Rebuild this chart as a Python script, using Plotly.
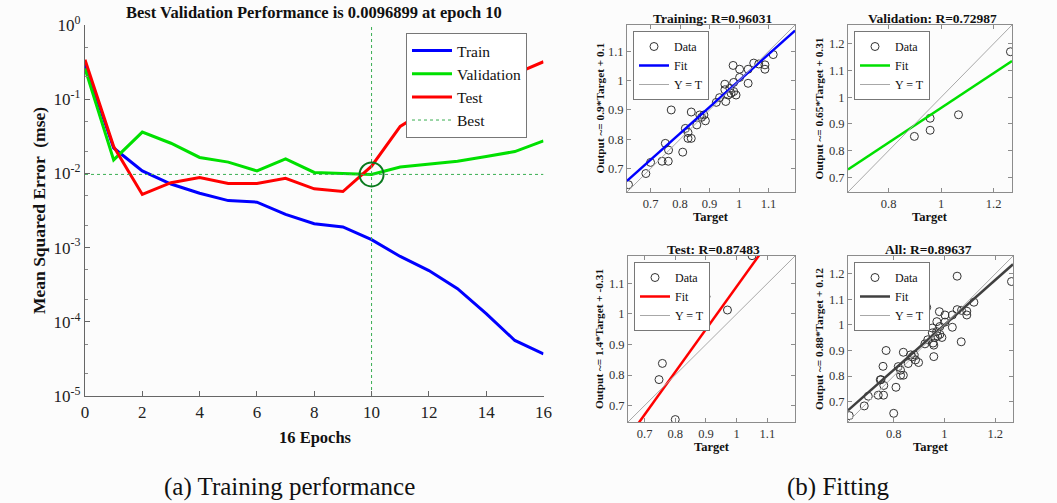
import plotly.graph_objects as go

W, H = 1057, 503
SERIF = "Liberation Serif"


def px(x):
    return x / W


def py(y):
    return 1 - y / H


# ---------------- data: training performance ----------------
epochs = list(range(17))
train_mse = [0.30, 0.022, 0.0108, 0.0072, 0.0054, 0.0043, 0.0041, 0.0028, 0.0021,
             0.0019, 0.00128, 0.00076, 0.00049, 0.00028, 0.000129, 5.6e-5, 3.7e-5]
val_mse = [0.26, 0.0152, 0.036, 0.0255, 0.0164, 0.0142, 0.0108, 0.0157, 0.0103,
           0.0101, 0.0096899, 0.0122, 0.0133, 0.0146, 0.0169, 0.0197, 0.0275]
test_mse = [0.34, 0.023, 0.0052, 0.0075, 0.0088, 0.0073, 0.0073, 0.0086, 0.0062,
            0.0057, 0.0125, 0.043, 0.075, 0.11, 0.15, 0.22, 0.32]
best_epoch = 10
best_perf = 0.0096899
y_tick_vals = [1e-5, 1e-4, 1e-3, 1e-2, 1e-1, 1]
y_tick_text = ["10<sup>-5</sup>", "10<sup>-4</sup>", "10<sup>-3</sup>",
               "10<sup>-2</sup>", "10<sup>-1</sup>", "10<sup>0</sup>"]

# ---------------- data: regression fits ----------------
train_target = [0.625, 0.684, 0.700, 0.739, 0.760, 0.750, 0.761, 0.770, 0.809, 0.818,
                0.827, 0.827, 0.838, 0.838, 0.857, 0.867, 0.873, 0.881, 0.886, 0.923,
                0.934, 0.952, 0.952, 0.955, 0.963, 0.969, 0.980, 0.982, 0.982, 0.990,
                0.973, 1.002, 1.002, 1.031, 1.031, 1.050, 1.067, 1.088, 1.088, 1.116]
train_output = [0.645, 0.683, 0.721, 0.725, 0.725, 0.786, 0.763, 0.900, 0.756, 0.837,
                0.823, 0.803, 0.803, 0.893, 0.849, 0.883, 0.875, 0.883, 0.863, 0.926,
                0.942, 0.988, 0.969, 0.929, 0.951, 0.974, 1.052, 0.994, 0.963, 0.951,
                0.957, 1.039, 1.011, 0.991, 1.039, 1.060, 1.057, 1.054, 1.039, 1.089]
val_target = [0.898, 0.930, 0.958, 0.958, 1.066, 1.264]
val_output = [0.853, 1.069, 0.921, 0.876, 0.934, 1.170]
test_target = [0.747, 0.758, 0.800, 0.900, 0.970, 1.050]
test_output = [0.785, 0.838, 0.654, 1.057, 1.013, 1.191]
all_target = train_target + val_target + test_target
all_output = train_output + val_output + test_output

panel_titles = ["Training: R=0.96031", "Validation: R=0.72987",
                "Test: R=0.87483", "All: R=0.89637"]
panel_ylabels = ["Output ~= 0.9*Target + 0.1", "Output ~= 0.65*Target + 0.31",
                 "Output ~= 1.4*Target + -0.31", "Output ~= 0.88*Target + 0.12"]
fit_slope = [0.9, 0.65, 1.4, 0.88]
fit_icpt = [0.1, 0.31, -0.31, 0.12]
fit_colors = ["#0000ff", "#00e000", "#ff0000", "#404040"]
panel_limits = [[0.62, 1.19], [0.645, 1.27], [0.646, 1.19], [0.62, 1.27]]
panel_ticks = [[0.7, 0.8, 0.9, 1.0, 1.1], [0.8, 1.0, 1.2],
               [0.7, 0.8, 0.9, 1.0, 1.1], [0.8, 1.0, 1.2]]
panel_yticks = [[0.7, 0.8, 0.9, 1.0, 1.1], [0.7, 0.8, 0.9, 1.0, 1.1, 1.2],
                [0.7, 0.8, 0.9, 1.0, 1.1], [0.7, 0.8, 0.9, 1.0, 1.1, 1.2]]
panel_targets = [train_target, val_target, test_target, all_target]
panel_outputs = [train_output, val_output, test_output, all_output]

# pixel boxes of the panels (left, right, top, bottom)
boxes = [(627, 795, 25, 192), (848, 1012, 25, 192),
         (628, 795, 256, 422), (848, 1013, 256, 422)]


def fmt(v):
    s = ("%.1f" % v)
    return "1" if s == "1.0" else s


fig = go.Figure()

# ---------------- left plot ----------------
fig.add_trace(go.Scatter(x=epochs, y=train_mse, mode="lines", name="Train",
                         line=dict(color="#0000ff", width=3), legend="legend"))
fig.add_trace(go.Scatter(x=epochs, y=val_mse, mode="lines", name="Validation",
                         line=dict(color="#00e000", width=3), legend="legend"))
fig.add_trace(go.Scatter(x=epochs, y=test_mse, mode="lines", name="Test",
                         line=dict(color="#ff0000", width=3), legend="legend"))
fig.add_trace(go.Scatter(x=[epochs[0], epochs[-1], None, best_epoch, best_epoch],
                         y=[best_perf, best_perf, None, 1e-5, 1],
                         mode="lines", name="Best",
                         line=dict(color="#3aae52", width=1, dash="dot"),
                         legend="legend"))
fig.add_trace(go.Scatter(x=[best_epoch], y=[best_perf], mode="markers",
                         marker=dict(symbol="circle-open", size=24,
                                     line=dict(color="#0a7a1e", width=2),
                                     color="#0a7a1e"),
                         showlegend=False))

# ---------------- right panels ----------------
for i in range(4):
    xa = "x%d" % (i + 2)
    ya = "y%d" % (i + 2)
    lg = "legend%d" % (i + 2)
    lo, hi = panel_limits[i]
    fig.add_trace(go.Scatter(x=panel_targets[i], y=panel_outputs[i], mode="markers",
                             name="Data", xaxis=xa, yaxis=ya, legend=lg,
                             marker=dict(symbol="circle-open", size=8, color="#333333",
                                         line=dict(width=1, color="#333333"))))
    fig.add_trace(go.Scatter(x=[lo, hi],
                             y=[fit_slope[i] * lo + fit_icpt[i], fit_slope[i] * hi + fit_icpt[i]],
                             mode="lines", name="Fit", xaxis=xa, yaxis=ya, legend=lg,
                             line=dict(color=fit_colors[i], width=2.5)))
    fig.add_trace(go.Scatter(x=[lo, hi], y=[lo, hi], mode="lines", name="Y = T",
                             xaxis=xa, yaxis=ya, legend=lg,
                             line=dict(color="#a8a8a8", width=1)))

layout = dict(
    width=W, height=H, autosize=False,
    margin=dict(l=0, r=0, t=0, b=0, pad=0, autoexpand=False),
    paper_bgcolor="#fcfcfc", plot_bgcolor="#fcfcfc",
    font=dict(family=SERIF, color="#222222", size=12),
    showlegend=True,
)

layout["xaxis"] = dict(domain=[px(85), px(543.5)], range=[0, 16], anchor="y",
                       automargin=False,
                       tickvals=list(range(0, 17, 2)), ticks="inside", ticklen=5,
                       tickcolor="#666666", showline=True, linecolor="#666666",
                       linewidth=1.3, showgrid=False, zeroline=False,
                       tickfont=dict(size=17, family=SERIF, color="#222222"))
layout["yaxis"] = dict(domain=[py(396), py(25)], type="log", range=[-5, 0], anchor="x",
                       automargin=False,
                       tickvals=y_tick_vals, ticktext=y_tick_text, ticks="inside",
                       ticklen=5, tickcolor="#666666", showline=True,
                       linecolor="#666666", linewidth=1.3, showgrid=False,
                       zeroline=False,
                       minor=dict(ticks="inside", ticklen=3, tickcolor="#888888",
                                  showgrid=False),
                       tickfont=dict(size=17, family=SERIF, color="#222222"))

for i in range(4):
    l, r, t, b = boxes[i]
    lo, hi = panel_limits[i]
    n = i + 2
    axcommon = dict(showline=True, linecolor="#8c8c8c", linewidth=1, mirror="ticks",
                    ticks="inside", ticklen=4, tickcolor="#8c8c8c", showgrid=False,
                    zeroline=False, range=[lo, hi], automargin=False,
                    tickfont=dict(size=12.5, family=SERIF, color="#333333"))
    layout["xaxis%d" % n] = dict(axcommon, domain=[px(l), px(r)], anchor="y%d" % n,
                                 tickvals=panel_ticks[i],
                                 ticktext=[fmt(v) for v in panel_ticks[i]])
    layout["yaxis%d" % n] = dict(axcommon, domain=[py(b), py(t)], anchor="x%d" % n,
                                 tickvals=panel_yticks[i],
                                 ticktext=[fmt(v) for v in panel_yticks[i]])

layout["legend"] = dict(x=px(406), y=py(33), xanchor="left", yanchor="top",
                        bgcolor="#ffffff", bordercolor="#777777", borderwidth=1,
                        font=dict(size=15.5, family=SERIF, color="#111111"),
                        itemwidth=40, tracegroupgap=0)
for i in range(4):
    l, r, t, b = boxes[i]
    layout["legend%d" % (i + 2)] = dict(x=px(l + 6), y=py(t + 6), xanchor="left",
                                        yanchor="top", bgcolor="#ffffff",
                                        bordercolor="#777777", borderwidth=1,
                                        font=dict(size=12, family=SERIF,
                                                  color="#111111"),
                                        itemwidth=30, tracegroupgap=0)

annotations = []


def ann(text, x, y, size, angle=0, bold=False):
    annotations.append(dict(text=("<b>%s</b>" % text) if bold else text,
                            x=px(x), y=py(y), xref="paper", yref="paper",
                            xanchor="center", yanchor="middle", showarrow=False,
                            textangle=angle,
                            font=dict(size=size, family=SERIF, color="#111111")))


ann("Best Validation Performance is 0.0096899 at epoch 10", 314, 13, 16.5, bold=True)
ann("Mean Squared Error  (mse)", 39, 211, 17.5, angle=-90, bold=True)
ann("16 Epochs", 315, 437, 16.5, bold=True)
ann("(a) Training performance", 289, 487, 25)
ann("(b) Fitting", 838, 487, 25)

title_pos = [(712, 18), (932, 18), (713, 249), (928, 249)]
ylab_x = [599, 818, 599, 819]
xlab_y = [217, 217, 447, 447]
for i in range(4):
    l, r, t, b = boxes[i]
    ann(panel_titles[i], title_pos[i][0], title_pos[i][1], 13.5, bold=True)
    ann(panel_ylabels[i], ylab_x[i], (t + b) / 2, 11.3, angle=-90, bold=True)
    ann("Target", (l + r) / 2, xlab_y[i], 12.5, bold=True)

layout["annotations"] = annotations
fig.update_layout(**layout)
fig.write_html("out.html", config={"displayModeBar": False},
               post_script="document.body.style.margin='0';"
                           "document.body.style.overflow='hidden';")
